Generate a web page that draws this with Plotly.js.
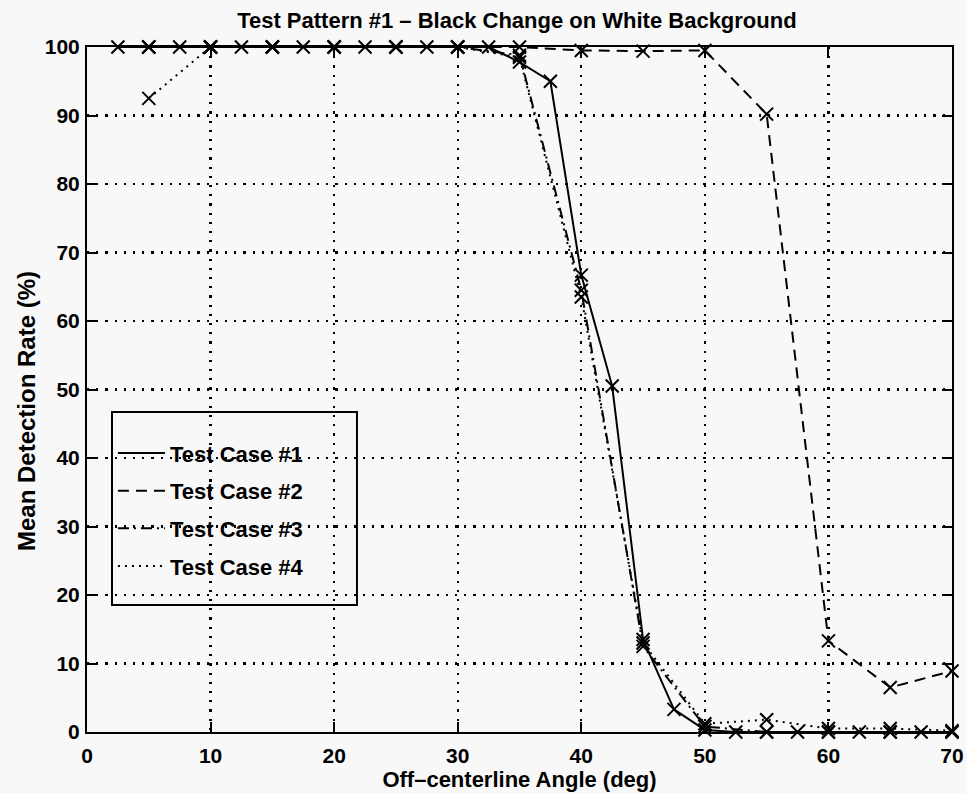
<!DOCTYPE html>
<html>
<head>
<meta charset="utf-8">
<script src="https://cdn.plot.ly/plotly-3.0.1.min.js"></script>
<style>
  html, body { margin: 0; padding: 0; background: #f8f8f8; }
  #chart { width: 967px; height: 793px; }
</style>
</head>
<body>
<div id="chart"></div>
<script>
// Off-centerline angle samples (deg)
const anglesFine = [2.5, 5, 7.5, 10, 12.5, 15, 17.5, 20, 22.5, 25, 27.5, 30, 32.5,
                    35, 37.5, 40, 42.5, 45, 47.5, 50, 52.5, 55, 57.5, 60, 62.5, 65, 67.5, 70];
const anglesCoarse = [5, 10, 15, 20, 25, 30, 35, 40, 45, 50, 55, 60, 65, 70];

// Mean detection rate (%) for each test case
const case1 = [100, 100, 100, 100, 100, 100, 100, 100, 100, 100, 100, 100, 100,
               97.8, 95, 66.7, 50.5, 13.5, 3.3, 0.3, 0, 0, 0, 0, 0, 0, 0, 0];
const case2 = [100, 100, 100, 100, 100, 100, 100, 99.5, 99.4, 99.5, 90.2, 13.3, 6.5, 8.9];
const case3 = [100, 100, 100, 100, 100, 100, 98.8, 64.5, 12.5, 0.8, 0, 0, 0, 0];
const case4 = [92.5, 100, 100, 100, 100, 100, 98.5, 63.5, 13, 1.2, 1.8, 0.5, 0.5, 0.2];

const seriesNames = ['Test Case #1', 'Test Case #2', 'Test Case #3', 'Test Case #4'];
const xTicks = [0, 10, 20, 30, 40, 50, 60, 70];
const yTicks = [0, 10, 20, 30, 40, 50, 60, 70, 80, 90, 100];

const FONT = 'Liberation Sans, Arial, Helvetica, sans-serif';
const INK = '#000000';

const series = [
  { x: anglesFine,   y: case1, dash: 'solid' },
  { x: anglesCoarse, y: case2, dash: '11px,7px' },
  { x: anglesCoarse, y: case3, dash: '11px,5px,2px,5px' },
  { x: anglesCoarse, y: case4, dash: '2px,5px' }
];

const traces = [];
series.forEach((s, i) => {
  // line (shown in the legend, no markers there)
  traces.push({
    x: s.x, y: s.y, name: seriesNames[i], type: 'scatter', mode: 'lines',
    line: { color: INK, width: 2, dash: s.dash },
    legendgroup: 'g' + i, cliponaxis: false, hoverinfo: 'skip'
  });
});
series.forEach((s, i) => {
  // x markers at each measured angle
  traces.push({
    x: s.x, y: s.y, name: seriesNames[i], type: 'scatter', mode: 'markers',
    marker: { symbol: 'x-thin-open', size: 13, color: INK, line: { color: INK, width: 2 } },
    showlegend: false, legendgroup: 'g' + i, cliponaxis: false, hoverinfo: 'skip'
  });
});

const axisBase = {
  showline: true, linecolor: INK, linewidth: 2, mirror: 'ticks',
  ticks: 'inside', ticklen: 10, tickwidth: 2, tickcolor: INK,
  showgrid: true, gridcolor: INK, gridwidth: 2.2, griddash: '2.2px,7px',
  zeroline: false, fixedrange: true,
  tickfont: { family: FONT, size: 21, color: INK, weight: 'bold' }
};

const layout = {
  width: 967, height: 793,
  margin: { l: 87, r: 15, t: 47, b: 61 },
  paper_bgcolor: '#f8f8f8', plot_bgcolor: '#f8f8f8',
  font: { family: FONT, color: INK },
  title: {
    text: 'Test Pattern #1 \u2013 Black Change on White Background',
    font: { family: FONT, size: 22, color: INK, weight: 'bold' },
    x: 0.497, xref: 'paper', xanchor: 'center',
    y: 0.975, yref: 'container', yanchor: 'middle'
  },
  xaxis: Object.assign({}, axisBase, {
    range: [0, 70], tickvals: xTicks, ticktext: xTicks.map(String),
    ticklabelstandoff: 4,
    title: { text: 'Off\u2013centerline Angle (deg)', standoff: 3,
             font: { family: FONT, size: 22, color: INK, weight: 'bold' } }
  }),
  yaxis: Object.assign({}, axisBase, {
    range: [0, 100], tickvals: yTicks, ticktext: yTicks.map(String),
    ticklabelstandoff: 1
  }),
  annotations: [{
    text: 'Mean Detection Rate (%)', textangle: -90, showarrow: false,
    xref: 'paper', yref: 'paper', x: -0.0705, y: 0.4686,
    xanchor: 'center', yanchor: 'middle',
    font: { family: FONT, size: 24, color: INK, weight: 'bold' }
  }],
  showlegend: true,
  legend: {
    x: 0.03, y: 0.4375, xanchor: 'left', yanchor: 'top',
    bgcolor: 'rgba(0,0,0,0)', borderwidth: 0,
    itemwidth: 47, traceorder: 'grouped', tracegroupgap: 6,
    font: { family: FONT, size: 22, color: INK, weight: 'bold' }
  },
  shapes: [{
    type: 'rect', xref: 'paper', yref: 'paper',
    x0: 0.0289, x1: 0.3121, y0: 0.1854, y1: 0.4672,
    line: { color: INK, width: 2 }, fillcolor: 'rgba(0,0,0,0)', layer: 'above'
  }]
};

Plotly.newPlot('chart', traces, layout, { staticPlot: true, displayModeBar: false });
</script>
</body>
</html>
